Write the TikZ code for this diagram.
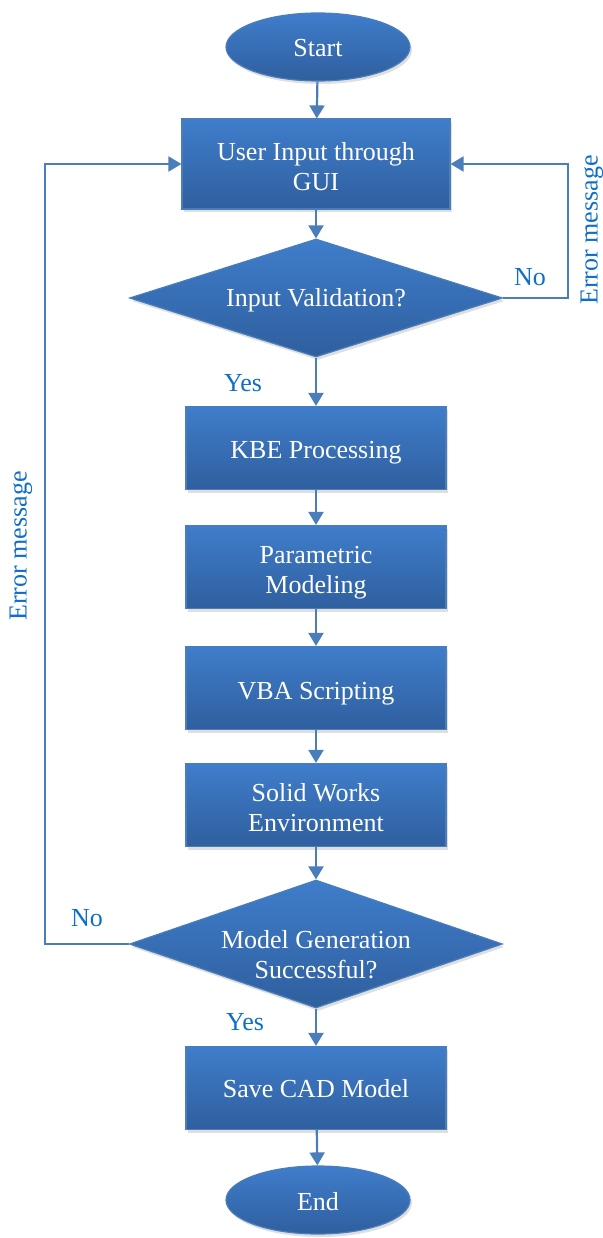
\documentclass[tikz,border=0pt]{standalone}
\usepackage{fontspec}
\setmainfont{Liberation Serif}
\usetikzlibrary{shapes.geometric,arrows.meta,shadows,calc}
\definecolor{ctop}{HTML}{3F7DCB}
\definecolor{cbot}{HTML}{2F5F9E}
\definecolor{cedge}{HTML}{4A7EBB}
\definecolor{cline}{HTML}{4A7EBB}
\definecolor{clab}{HTML}{0F6FC6}
\tikzset{
  flowshade/.style={top color=ctop,bottom color=cbot,draw=cedge,line width=1.2pt,
    drop shadow={shadow xshift=2pt,shadow yshift=-3pt,opacity=0.25,fill=gray}},
  boxtext/.style={text=white,font=\fontsize{26}{30}\selectfont,align=center,inner sep=0pt},
  procbox/.style={flowshade,rectangle,minimum width=260pt,minimum height=83pt,inner sep=0pt},
  termnode/.style={flowshade,ellipse,minimum width=184pt,minimum height=68pt,inner sep=0pt},
  decnode/.style={flowshade,diamond,minimum width=373pt,minimum height=118pt,inner sep=0pt,aspect=3.2},
  conn/.style={draw=cline,line width=2.2pt,-{Triangle[width=15pt,length=13pt]}},
  lab/.style={text=clab,font=\fontsize{26}{30}\selectfont,inner sep=0pt}
}
\begin{document}
\begin{tikzpicture}[x=1pt,y=-1pt]
\useasboundingbox (0,0) rectangle (602,1238);
\node[termnode,label={[boxtext,yshift=-1pt]center:Start}] (start) at (318,47) {};
\node[procbox,minimum width=268pt,minimum height=90pt,label={[boxtext,yshift=-3pt]center:User Input through\\GUI}] (user) at (316,164) {};
\node[decnode,label={[boxtext,yshift=-2pt]center:Input Validation?}] (d1) at (316,298) {};
\node[procbox,label={[boxtext,yshift=-5pt]center:KBE Processing}] (kbe) at (316,448) {};
\node[procbox,label={[boxtext,yshift=-6pt]center:Parametric\\Modeling}] (param) at (316,567) {};
\node[procbox,label={[boxtext,yshift=-6pt]center:VBA Scripting}] (vba) at (316,688) {};
\node[procbox,label={[boxtext,yshift=-3pt]center:Solid Works\\Environment}] (sw) at (316,805) {};
\node[decnode,minimum height=128pt,label={[boxtext,yshift=-11pt]center:Model Generation\\Successful?}] (d2) at (316,944) {};
\node[procbox,label={[boxtext,yshift=-1pt]center:Save CAD Model}] (save) at (316,1088) {};
\node[termnode,label={[boxtext,yshift=-2pt]center:End}] (end) at (318,1200) {};
\coordinate (rx) at (568,0);
\coordinate (lx) at (45,0);
\draw[conn] (start) -- (user);
\draw[conn] (user) -- (d1);
\draw[conn] (d1) -- (kbe);
\draw[conn] (kbe) -- (param);
\draw[conn] (param) -- (vba);
\draw[conn] (vba) -- (sw);
\draw[conn] (sw) -- (d2);
\draw[conn] (d2) -- (save);
\draw[conn] (save) -- (end);
\draw[conn] (d1.east) -- (d1.east -| rx) |- (user.east);
\draw[conn] (d2.west) -- (d2.west -| lx) |- (user.west);
\node[lab] (yes1) at (243,383) {Yes};
\node[lab] (yes2) at (245,1022) {Yes};
\node[lab] (no1) at (530,277) {No};
\node[lab] (no2) at (87,918) {No};
\node[lab,rotate=90] (err1) at (592,230) {Error message};
\node[lab,rotate=90] (err2) at (21,546) {Error message};
\end{tikzpicture}
\end{document}
